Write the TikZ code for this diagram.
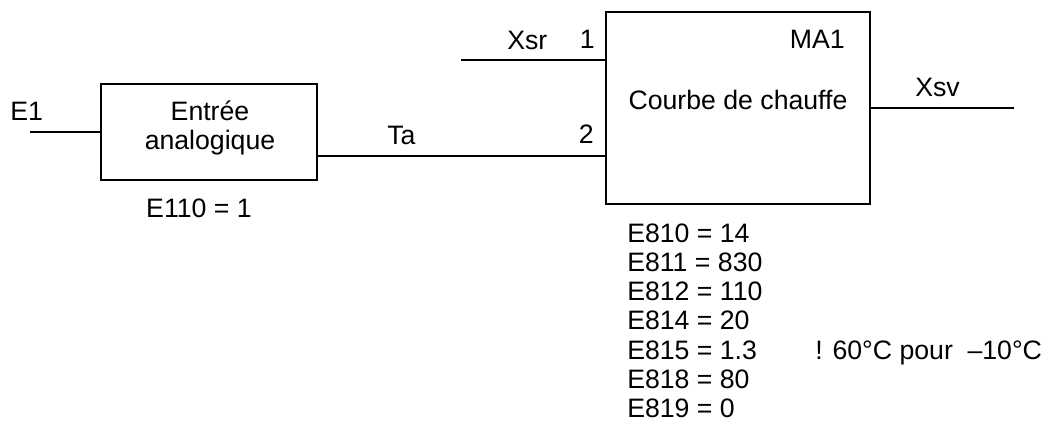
\documentclass[tikz,border=0pt]{standalone}
\usepackage{fontspec}
\setmainfont{Liberation Sans}
\begin{document}
\begin{tikzpicture}[x=0.75pt,y=-0.75pt,
  blockbox/.style={draw,line width=1.5pt,inner sep=0pt},
  wire/.style={line width=1.5pt},
  txt/.style={inner sep=0pt,font=\fontsize{20}{23}\selectfont}]
\useasboundingbox (0,0) rectangle (1042,426);
% blocks
\node[blockbox,minimum width=162pt,minimum height=72pt] (b1) at (209,132) {};
\node[blockbox,minimum width=198pt,minimum height=144pt] (b2) at (738,108) {};
% texts of block 1
\node[txt,anchor=base] (t1a) at (210,120) {Entrée};
\node[txt,anchor=base] (t1b) at (210,149) {analogique};
\node[txt,anchor=base] (p1) at (199,217) {E110 = 1};
% texts of block 2
\node[txt,anchor=base east] (ma) at (845,48) {MA1};
\node[txt,anchor=base] (t2) at (738,109) {Courbe de chauffe};
\node[txt,anchor=base east] (n1) at (595,48) {1};
\node[txt,anchor=base east] (n2) at (594,143) {2};
% signals
\node[txt,anchor=base west] (e1) at (10,120) {E1};
\coordinate (e1s) at (30,132);
\draw[wire] (e1s) -- (b1.west);
\coordinate (ta) at (450,156);
\node[txt,anchor=base west] (tat) at (387,144) {Ta};
\draw[wire] (b1.east |- ta) -- (b2.west |- ta);
\coordinate (xsr) at (461,60);
\node[txt,anchor=base west] (xsrt) at (507,49) {Xsr};
\draw[wire] (xsr) -- (b2.west |- xsr);
\coordinate (xsv) at (1014,108);
\node[txt,anchor=base west] (xsvt) at (915,96) {Xsv};
\draw[wire] (b2.east) -- (xsv);
% parameters
\node[txt,anchor=base west] (q0) at (627,242) {E810 = 14};
\node[txt,anchor=base west] (q1) at (627,271.3) {E811 = 830};
\node[txt,anchor=base west] (q2) at (627,300.6) {E812 = 110};
\node[txt,anchor=base west] (q3) at (627,329.9) {E814 = 20};
\node[txt,anchor=base west] (q4) at (627,359.2) {E815 = 1.3};
\node[txt,anchor=base west] (q5) at (627,388.5) {E818 = 80};
\node[txt,anchor=base west] (q6) at (627,417.8) {E819 = 0};
\node[txt,anchor=base west] (cm) at (815,359.2) {! 60°C pour\hspace{0.55em}–10°C};
\end{tikzpicture}
\end{document}
